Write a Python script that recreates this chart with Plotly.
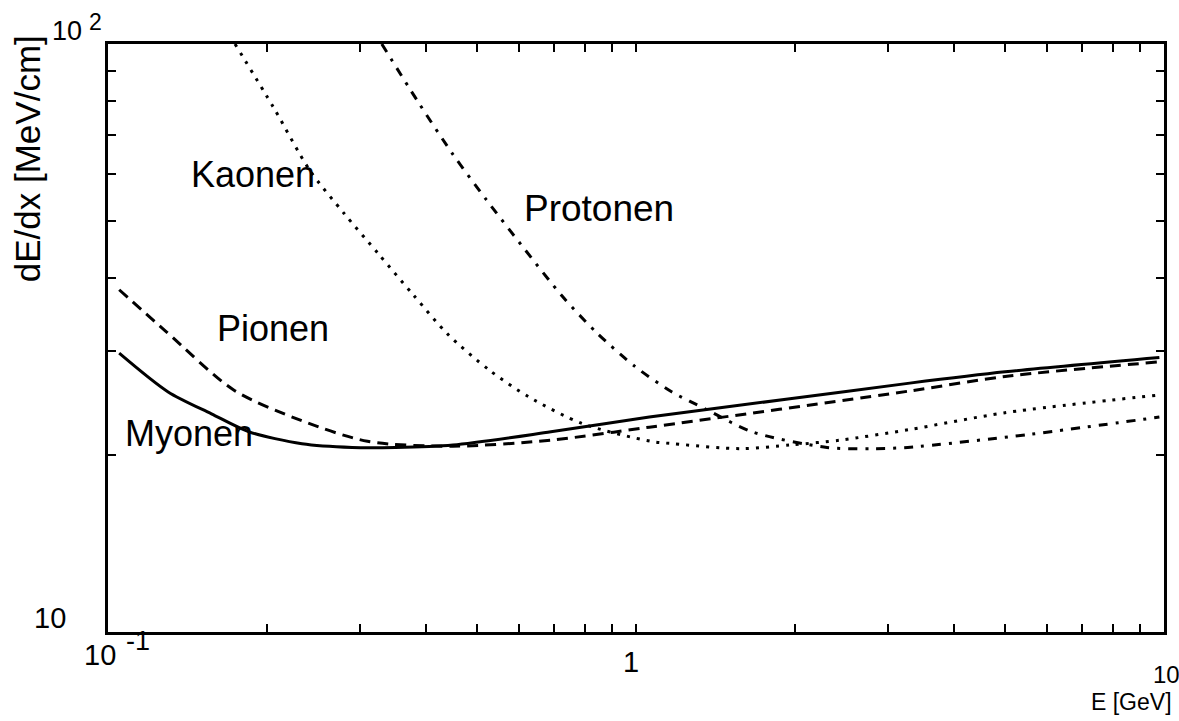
import plotly.graph_objects as go

# Energy loss dE/dx versus energy for four particle species
E_myon = [0.105, 0.13, 0.157, 0.185, 0.233, 0.29, 0.35, 0.45, 0.69, 1.06, 1.94, 3.3, 5.0, 9.8]
dedx_myon = [29.8, 25.6, 23.5, 21.9, 20.9, 20.6, 20.6, 20.8, 21.9, 23.2, 24.9, 26.5, 27.7, 29.3]

E_pion = [0.105, 0.129, 0.173, 0.232, 0.31, 0.45, 0.69, 1.06, 3.3, 5.0, 9.8]
dedx_pion = [38.2, 32.4, 25.8, 22.9, 21.1, 20.7, 21.2, 22.3, 25.7, 27.2, 28.8]

E_kaon = [0.174, 0.206, 0.241, 0.28, 0.325, 0.379, 0.44, 0.527, 0.627, 0.793, 1.067,
          1.18, 1.58, 1.96, 2.44, 3.3, 5.0, 9.8]
dedx_kaon = [100, 77.9, 61.0, 51.5, 44.0, 37.4, 32.1, 27.9, 25.1, 22.6, 21.1,
             20.9, 20.5, 20.8, 21.2, 22.1, 23.6, 25.3]

E_proton = [0.33, 0.386, 0.449, 0.521, 0.615, 0.726, 0.842, 0.995, 1.17, 1.36, 1.66,
            2.3, 2.8, 3.27, 5.6, 9.8]
dedx_proton = [100, 79.9, 65.1, 54.3, 44.8, 37.2, 32.3, 28.3, 25.6, 23.9, 21.9,
               20.6, 20.5, 20.6, 21.7, 23.2]

x_minor = [0.1, 0.2, 0.3, 0.4, 0.5, 0.6, 0.7, 0.8, 0.9, 1, 2, 3, 4, 5, 6, 7, 8, 9, 10]
y_minor = [10, 20, 30, 40, 50, 60, 70, 80, 90, 100]

W, H = 1179, 721
L, R, T, B = 108, 1167, 44, 632
FONT = "Liberation Sans, Arial, sans-serif"


def px(x):
    return (x - L) / (R - L)


def py(y):
    return (B - y) / (B - T)


fig = go.Figure()
series = [
    (E_myon, dedx_myon, "solid"),
    (E_pion, dedx_pion, "11px,7px"),
    (E_kaon, dedx_kaon, "3px,7px"),
    (E_proton, dedx_proton, "9px,8px,3px,8px"),
]
for xs, ys, dash in series:
    fig.add_trace(go.Scatter(
        x=xs, y=ys, mode="lines",
        line=dict(color="black", width=3, dash=dash, shape="spline", smoothing=0.8),
        showlegend=False, hoverinfo="skip",
    ))

axis_common = dict(
    type="log", showgrid=False, zeroline=False, showline=True, linecolor="black",
    linewidth=3, mirror="ticks", ticks="inside", ticklen=8, tickwidth=2,
    tickcolor="black", showticklabels=False,
)
fig.update_xaxes(range=[-1, 1], tickvals=x_minor, **axis_common)
fig.update_yaxes(range=[1, 2], tickvals=y_minor, **axis_common)

labels = [
    # particle names
    ("Kaonen", 253, 175, "center", 36),
    ("Protonen", 600, 208, "center", 37),
    ("Pionen", 273, 328, "center", 36),
    ("Myonen", 189, 433, "center", 36),
    # decade labels with full-size exponents
    ("10", 84, 31, "right", 27),
    ("2", 87, 22, "left", 23),
    ("10", 68, 618, "right", 29),
    ("10", 82, 655, "left", 29),
    ("-1", 124, 641, "left", 27),
    ("1", 632, 662, "center", 29),
    ("10", 1154, 674, "left", 24),
    ("E [GeV]", 1134, 702, "center", 23),
]
for text, x, y, anchor, size in labels:
    fig.add_annotation(
        text=text, x=px(x), y=py(y), xref="paper", yref="paper",
        xanchor=anchor, yanchor="middle", showarrow=False,
        font=dict(family=FONT, size=size, color="black"),
    )

fig.add_annotation(
    text="dE/dx [MeV/cm]", x=px(27), y=py(159), xref="paper", yref="paper",
    xanchor="center", yanchor="middle", textangle=-90, showarrow=False,
    font=dict(family=FONT, size=35, color="black"),
)

fig.update_layout(
    width=W, height=H,
    margin=dict(l=L, r=W - R, t=T, b=H - B),
    paper_bgcolor="white", plot_bgcolor="white",
)

fig.write_html("out.html")
